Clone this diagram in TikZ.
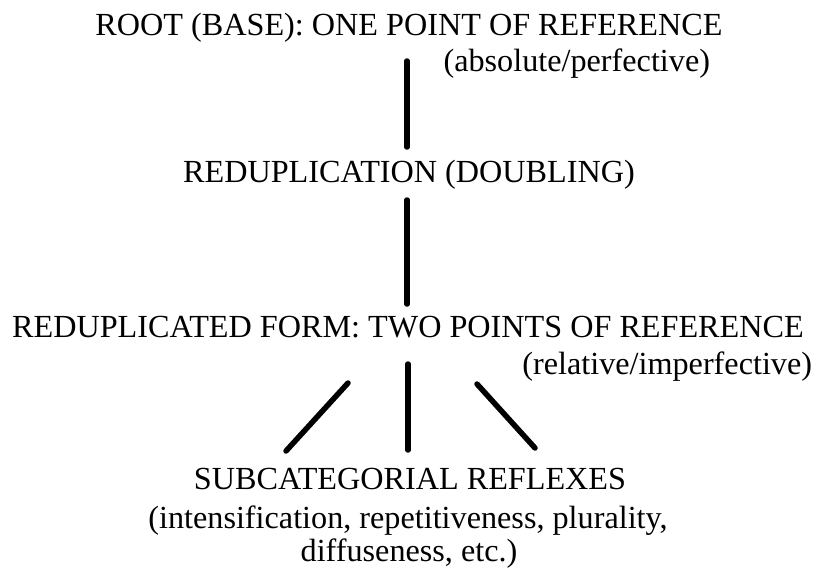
\documentclass[tikz,border=0pt]{standalone}
\usepackage{fontspec}
\setmainfont{Liberation Serif}
\begin{document}
\begin{tikzpicture}[x=1pt,y=-1pt,
  lbl/.style={inner sep=0pt, outer sep=0pt, font=\fontsize{32.2}{38}\selectfont},
  link/.style={line width=5.5pt, line cap=round}]
\useasboundingbox (0,0) rectangle (818,567);
% texts
\node[lbl, anchor=base] (root) at (409,36) {ROOT (BASE): ONE POINT OF REFERENCE};
\node[lbl, anchor=base east] (abs) at (710,72) {(absolute/perfective)};
\node[lbl, anchor=base] (redup) at (409,182) {REDUPLICATION (DOUBLING)};
\node[lbl, anchor=base] (form) at (408,337) {REDUPLICATED FORM: TWO POINTS OF REFERENCE};
\node[lbl, anchor=base east] (rel) at (812,374) {(relative/imperfective)};
\node[lbl, anchor=base] (sub) at (410,489) {SUBCATEGORIAL REFLEXES};
\node[lbl, anchor=base] (subA) at (408,528) {(intensification, repetitiveness, plurality,};
\node[lbl, anchor=base] (subB) at (409,561) {diffuseness, etc.)};
% connector ends
\coordinate (a1) at (407,61);
\coordinate (a2) at (407,147);
\coordinate (b1) at (407,200);
\coordinate (b2) at (407,304);
\coordinate (l1) at (348,383);
\coordinate (l2) at (286,451);
\coordinate (m1) at (408,364);
\coordinate (m2) at (408,450);
\coordinate (r1) at (477,384);
\coordinate (r2) at (535,448);
\draw[link] (a1) -- (a2);
\draw[link] (b1) -- (b2);
\draw[link] (l1) -- (l2);
\draw[link] (m1) -- (m2);
\draw[link] (r1) -- (r2);
\end{tikzpicture}
\end{document}
